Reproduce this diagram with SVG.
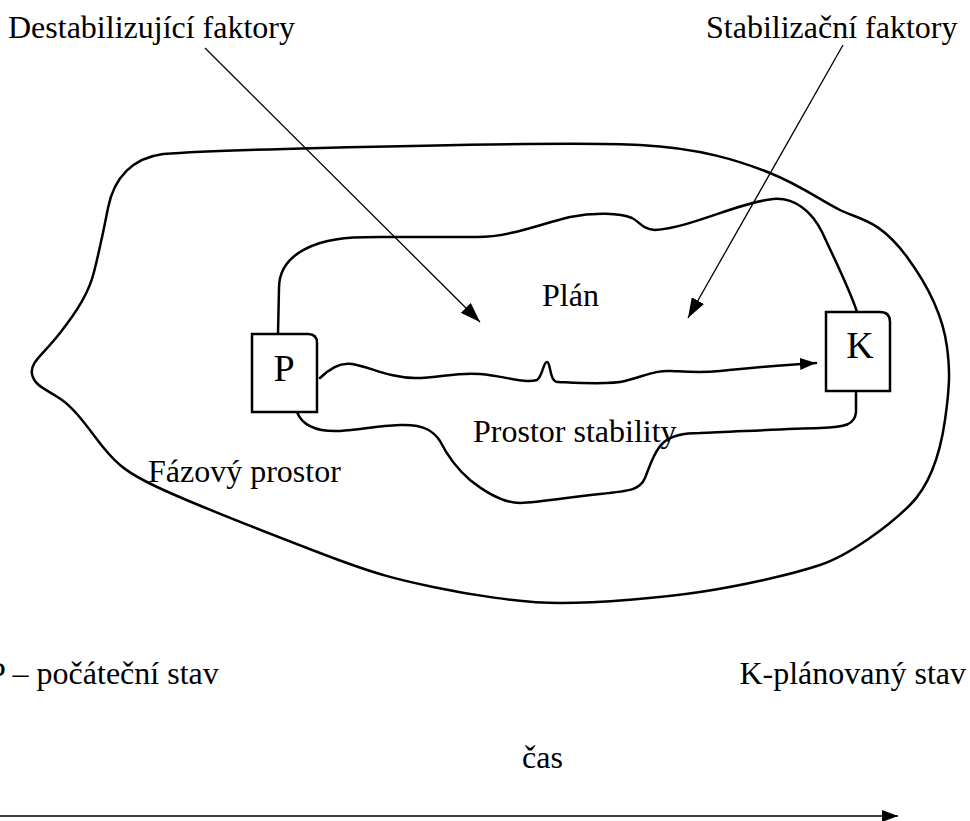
<svg xmlns="http://www.w3.org/2000/svg" width="970" height="821" viewBox="0 0 970 821">
<style>
.t{font-family:"Liberation Serif","Times New Roman",serif;font-size:32px;fill:#000}
.b{font-family:"Liberation Serif","Times New Roman",serif;font-size:38px;fill:#000}
.c{fill:none;stroke:#000;stroke-width:2.5;stroke-linecap:round;stroke-linejoin:round}
.a{fill:none;stroke:#000;stroke-width:1.3}
.box{fill:#fff;stroke:#000;stroke-width:2.5}
</style>
<defs>
<marker id="ah" markerUnits="userSpaceOnUse" markerWidth="20" markerHeight="14" refX="20" refY="7" orient="auto"><path d="M0,0 L20,7 L0,14 z" fill="#000"/></marker>
<marker id="ah2" markerUnits="userSpaceOnUse" markerWidth="16" markerHeight="12" refX="16" refY="6" orient="auto"><path d="M0,0 L16,6 L0,12 z" fill="#000"/></marker>
</defs>
<rect width="970" height="821" fill="#fff"/>
<g id="outer">
<path class="c" d="M163,154 C133,158 114,177 108,208 S99,252 94,272 S78,310 60,333 S30,362 32,374 S48,390 62,400 S88,428 103,447 S130,474 155,486 S260,530 320,553 S400,580 433,587 S520,603 560,603 S660,598 700,592 S790,575 820,565 S890,525 910,505 S940,455 945,420 S950,370 947,347 S935,295 907,257 S860,220 840,210 S800,185 770,173 S700,148 640,145 S400,146 320,148 S190,152 163,154 Z"/>
</g>
<g id="inner">
<path class="c" d="M278,334 L279,288 C279,268 292,252 320,243 C345,236 370,237 393,237 C420,237 450,237 477,237 C510,237 540,224 570,217 C595,212 620,213 632,218 C640,222 642,229 655,230 C690,228 740,202 773,199 C795,197 812,212 822,232 C835,260 850,290 857,312"/>
<path class="c" d="M856,391 L856,412 C855,425 845,427 820,428 C780,429 730,432 700,433 C685,433 672,435 664,442 C655,450 650,465 645,478 C640,490 630,491 600,494 C570,497 540,502 520,503 C505,503 490,496 470,480 C455,467 447,455 440,441 C434,432 425,424 400,425 C375,426 360,430 340,431 C315,432 302,425 297,412"/>
</g>
<g id="connectors">
<path class="c" marker-end="url(#ah2)" d="M320,378 C330,368 340,362 352,364 C370,367 390,378 415,378 C440,378 455,372 480,374 C505,376 525,384 537,380 C543,376 543,362 547,362 C551,362 549,382 558,382 C580,383 610,385 625,381 C645,376 655,370 672,371 C690,372 700,373 720,371 C750,368 780,365 816,363"/>
<line class="a" x1="205" y1="48" x2="480" y2="322" marker-end="url(#ah)"/>
<line class="a" x1="843" y1="45" x2="688" y2="318" marker-end="url(#ah)"/>
<line class="a" x1="0" y1="816" x2="898" y2="816" marker-end="url(#ah2)"/>
</g>
<g id="nodeP">
<path class="box" d="M252,334 L308,334 Q317,334 317,343 L317,412 L252,412 Z"/>
<text class="b" x="284" y="381" text-anchor="middle">P</text>
</g>
<g id="nodeK">
<path class="box" d="M826,312 L880,312 Q890,312 890,322 L890,391 L826,391 Z"/>
<text class="b" x="860" y="358" text-anchor="middle">K</text>
</g>
<g id="labels">
<text class="t" x="8" y="38">Destabilizující faktory</text>
<text class="t" x="706" y="38">Stabilizační faktory</text>
<text class="t" x="542" y="306">Plán</text>
<text class="t" x="473" y="442">Prostor stability</text>
<text class="t" x="148" y="482">Fázový prostor</text>
<text class="t" x="-12" y="684">P – počáteční stav</text>
<text class="t" x="966" y="684" text-anchor="end">K-plánovaný stav</text>
<text class="t" x="522" y="768">čas</text>
</g>
</svg>
